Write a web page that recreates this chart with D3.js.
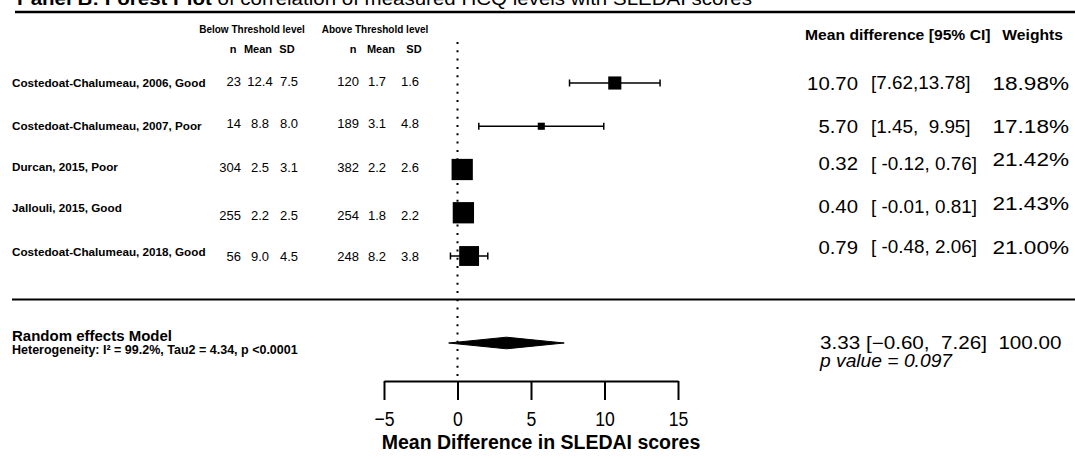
<!DOCTYPE html>
<html lang="en">
<head>
<meta charset="UTF-8">
<title>Forest plot</title>
<script src="https://d3js.org/d3.v7.min.js"></script>
<style>
  body { margin: 0; background: #fff; }
  svg text { font-family: "Liberation Sans", Arial, Helvetica, sans-serif; fill: #000; white-space: pre; }
</style>
</head>
<body>
<div id="chart"></div>
<script>
// ---- data ----
const studies = [
  "Costedoat-Chalumeau, 2006, Good",
  "Costedoat-Chalumeau, 2007, Poor",
  "Durcan, 2015, Poor",
  "Jallouli, 2015, Good",
  "Costedoat-Chalumeau, 2018, Good"
];
const belowN = [23, 14, 304, 255, 56];
const belowMean = [12.4, 8.8, 2.5, 2.2, 9.0];
const belowSD = [7.5, 8.0, 3.1, 2.5, 4.5];
const aboveN = [120, 189, 382, 254, 248];
const aboveMean = [1.7, 3.1, 2.2, 1.8, 8.2];
const aboveSD = [1.6, 4.8, 2.6, 2.2, 3.8];
const meanDiff = [10.70, 5.70, 0.32, 0.40, 0.79];
const ciLow = [7.62, 1.45, -0.12, -0.01, -0.48];
const ciHigh = [13.78, 9.95, 0.76, 0.81, 2.06];
const weights = [18.98, 17.18, 21.42, 21.43, 21.00];
const pooledMD = 3.33, pooledLow = -0.60, pooledHigh = 7.26, pooledWeight = 100.00;
const pValue = 0.097;
const heterogeneity = "Heterogeneity: I\u00B2 = 99.2%, Tau2 = 4.34, p <0.0001";
const xTicks = [-5, 0, 5, 10, 15];

// ---- layout ----
const W = 1075, H = 459;
const svg = d3.select("#chart").append("svg")
  .attr("width", W).attr("height", H);
svg.append("rect").attr("width", W).attr("height", H).attr("fill", "#fff");

const x = d3.scaleLinear().domain([-5, 15]).range([384, 678]);
const y = d3.scalePoint().domain(d3.range(studies.length)).range([83, 256]);
const boxSize = d3.scaleLinear().domain(d3.extent(weights)).range([7.1, 21.3]);

// small per-row nudges seen in the reference
const labelDy = [-1, -1, -3, -5, -5];
const numDy = [-2, -3, -2, 3, 0];
const rightDy = [0, 0, -6, -6, -9];
const weightDy = [0, 0, -10, -9, -9];

function txt(px, py, s, o = {}) {
  return svg.append("text")
    .attr("transform", `translate(${px},${py})` + (o.sx ? ` scale(${o.sx},1)` : ""))
    .attr("text-anchor", o.anchor || "start")
    .attr("dominant-baseline", "central")
    .style("font-size", (o.size || 12) + "px")
    .style("font-weight", o.bold ? "bold" : "normal")
    .style("font-style", o.italic ? "italic" : "normal")
    .text(s);
}

const minus = v => (v < 0 ? "\u2212" : "") + Math.abs(v).toFixed(2);
function ciLabel(lo, hi) {
  if (lo < 0) return "[ " + lo.toFixed(2) + ", " + hi.toFixed(2) + "]";
  return "[" + lo.toFixed(2) + "," + (hi < 10 ? "  " : "") + hi.toFixed(2) + "]";
}

// title (cut off at the top of the picture)
const title = svg.append("text")
  .attr("x", 17).attr("y", 4.5)
  .attr("textLength", 735).attr("lengthAdjust", "spacingAndGlyphs")
  .style("font-size", "19px");
title.append("tspan").style("font-weight", "bold").text("Panel B: Forest Plot");
title.append("tspan").text(" of correlation of measured HCQ levels with SLEDAI scores");

svg.append("line").attr("x1", 15).attr("x2", W).attr("y1", 12).attr("y2", 12)
  .attr("stroke", "#000").attr("stroke-width", 2.5);

// column headers
txt(252, 29, "Below Threshold level", {size: 10, bold: true, anchor: "middle"});
txt(375, 29, "Above Threshold level", {size: 10, bold: true, anchor: "middle"});
[["n", 233], ["Mean", 258], ["SD", 287], ["n", 353], ["Mean", 381], ["SD", 414]]
  .forEach(([s, cx]) => txt(cx, 49, s, {size: 11, bold: true, anchor: "middle"}));

txt(805, 35, "Mean difference [95% CI]", {size: 14, bold: true, sx: 1.12});
txt(1063, 35, "Weights", {size: 14, bold: true, sx: 1.12, anchor: "end"});

// zero line
svg.append("line")
  .attr("x1", x(0)).attr("x2", x(0)).attr("y1", 42).attr("y2", 378)
  .attr("stroke", "#000").attr("stroke-width", 2).attr("stroke-dasharray", "2,6.3");

// study rows
studies.forEach((s, i) => {
  const yy = y(i);
  txt(12, yy + labelDy[i], s, {size: 11.7, bold: true});

  const ny = yy + numDy[i];
  txt(241, ny, String(belowN[i]), {size: 13, anchor: "end"});
  txt(260, ny, belowMean[i].toFixed(1), {size: 13, anchor: "middle"});
  txt(289, ny, belowSD[i].toFixed(1), {size: 13, anchor: "middle"});
  txt(359, ny, String(aboveN[i]), {size: 13, anchor: "end"});
  txt(377, ny, aboveMean[i].toFixed(1), {size: 13, anchor: "middle"});
  txt(410, ny, aboveSD[i].toFixed(1), {size: 13, anchor: "middle"});

  // CI with end caps
  svg.append("line").attr("x1", x(ciLow[i])).attr("x2", x(ciHigh[i]))
    .attr("y1", yy).attr("y2", yy).attr("stroke", "#000").attr("stroke-width", 1.5);
  [ciLow[i], ciHigh[i]].forEach(v => svg.append("line")
    .attr("x1", x(v)).attr("x2", x(v)).attr("y1", yy - 3.5).attr("y2", yy + 3.5)
    .attr("stroke", "#000").attr("stroke-width", 1.5));
  const b = boxSize(weights[i]);
  svg.append("rect").attr("x", x(meanDiff[i]) - b / 2).attr("y", yy - b / 2)
    .attr("width", b).attr("height", b).attr("fill", "#000");

  // right-hand numbers
  const ry = yy + rightDy[i];
  txt(858, ry, meanDiff[i].toFixed(2), {size: 18.5, sx: 1.1, anchor: "end"});
  txt(871, ry, ciLabel(ciLow[i], ciHigh[i]), {size: 18.5, sx: 1.02});
  txt(1069, yy + weightDy[i], weights[i].toFixed(2) + "%", {size: 18.5, sx: 1.22, anchor: "end"});
});

// separator
svg.append("line").attr("x1", 12).attr("x2", W).attr("y1", 299.5).attr("y2", 299.5)
  .attr("stroke", "#000").attr("stroke-width", 2);

// pooled estimate
const py = 343;
svg.append("polygon")
  .attr("points", [[x(pooledLow), py], [x(pooledMD), py - 5.8], [x(pooledHigh), py], [x(pooledMD), py + 5.8]].join(" "))
  .attr("fill", "#000").attr("stroke", "#000").attr("stroke-width", 1);

txt(12, 335, "Random effects Model", {size: 15, bold: true});
txt(12, 350, heterogeneity, {size: 12.5, bold: true});

txt(820, py, pooledMD.toFixed(2) + " [" + minus(pooledLow) + ",  " + minus(pooledHigh) + "]  " + pooledWeight.toFixed(2),
  {size: 17.5, sx: 1.18});
txt(820, 361, "p value = " + pValue.toFixed(3), {size: 17.5, sx: 1.1, italic: true});

// x axis
const axis = svg.append("g").attr("transform", "translate(0,381)")
  .call(d3.axisBottom(x).tickValues(xTicks).tickSize(19).tickSizeOuter(0)
    .tickFormat(d => (d < 0 ? "\u2212" : "") + Math.abs(d)));
axis.select(".domain").attr("stroke", "#000").attr("stroke-width", 2);
axis.selectAll(".tick line").attr("stroke", "#000").attr("stroke-width", 2);
axis.selectAll(".tick text")
  .attr("y", 38).attr("dy", "0.35em")
  .attr("transform", "scale(0.84,1)")
  .style("font-size", "21px").style("font-family", "\"Liberation Sans\", Arial, sans-serif")
  .attr("fill", "#000");

txt(541, 442, "Mean Difference in SLEDAI scores", {size: 19.5, bold: true, anchor: "middle"});
</script>
</body>
</html>
